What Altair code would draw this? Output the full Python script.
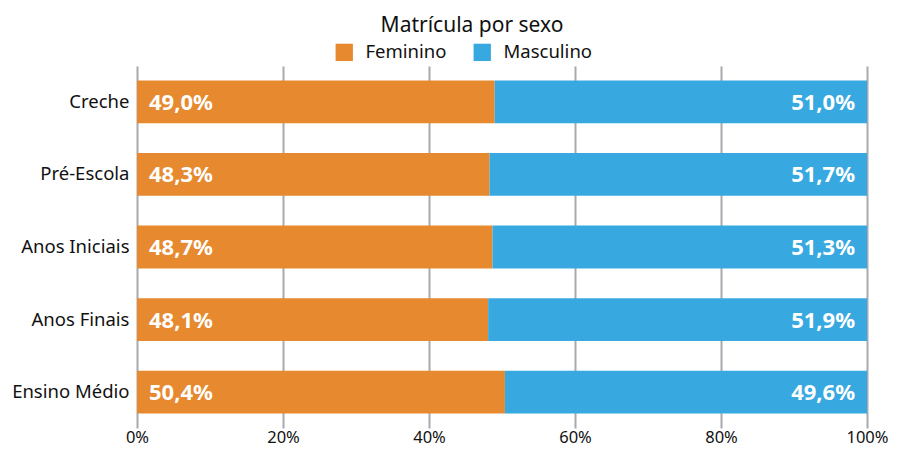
import altair as alt
import pandas as pd

categorias = ["Creche", "Pré-Escola", "Anos Iniciais", "Anos Finais", "Ensino Médio"]
feminino = [49.0, 48.3, 48.7, 48.1, 50.4]
masculino = [51.0, 51.7, 51.3, 51.9, 49.6]
sexos = ["Feminino", "Masculino"]
cores = ["#E6892F", "#38A9E0"]
ticks = [0, 20, 40, 60, 80, 100]

rows = []
for c, f, m in zip(categorias, feminino, masculino):
    rows.append({"cat": c, "sexo": "Feminino", "v": f, "ordem": 0})
    rows.append({"cat": c, "sexo": "Masculino", "v": m, "ordem": 1})
df = pd.DataFrame(rows)

FONT = "Noto Sans"

y = alt.Y("cat:N", sort=categorias, title=None,
          scale=alt.Scale(paddingInner=0.41, paddingOuter=0.2),
          axis=alt.Axis(domain=False, ticks=False, labelFontSize=18.5, labelColor="#111",
                        labelPadding=8, labelFont=FONT, grid=False))

bars = alt.Chart(df).mark_bar().encode(
    x=alt.X("v:Q", stack="zero", title=None,
            scale=alt.Scale(domain=[0, 100], nice=False),
            axis=alt.Axis(values=ticks, labelExpr="datum.value + '%'", domain=False, ticks=False,
                          grid=True, gridColor="#A6A9AE", gridWidth=2, labelFontSize=16.5,
                          labelColor="#111", labelFont=FONT, labelPadding=1, labelFlush=False)),
    y=y,
    color=alt.Color("sexo:N", scale=alt.Scale(domain=sexos, range=cores),
                    legend=alt.Legend(title=None, orient="none", direction="horizontal",
                                      legendX=198, legendY=-23, symbolType="square",
                                      symbolSize=300, symbolStrokeWidth=0, labelFontSize=18.5,
                                      labelFont=FONT, labelColor="#111", columnPadding=26,
                                      labelOffset=12, symbolOpacity=1)),
    order=alt.Order("ordem:Q"),
)

lab_f = alt.Chart(df).transform_filter("datum.sexo == 'Feminino'").transform_calculate(
    t="replace(format(datum.v, '.1f'), '.', ',') + '%'", x0="0"
).mark_text(align="left", dx=12, dy=1, color="white", fontWeight="bold", fontSize=22, font=FONT).encode(
    x=alt.X("x0:Q"), y=y, text="t:N")

lab_m = alt.Chart(df).transform_filter("datum.sexo == 'Masculino'").transform_calculate(
    t="replace(format(datum.v, '.1f'), '.', ',') + '%'", x1="100"
).mark_text(align="right", dx=-12, dy=1, color="white", fontWeight="bold", fontSize=22, font=FONT).encode(
    x=alt.X("x1:Q"), y=y, text="t:N")

chart = alt.layer(bars, lab_f, lab_m).properties(
    width=730, height=362,
    title=alt.TitleParams("Matrícula por sexo", fontSize=21, font=FONT, fontWeight="normal",
                          color="#111", anchor="middle", frame="group", dx=-30, offset=7),
    autosize=alt.AutoSizeParams(type="none"),
    padding={"left": 129, "top": 58, "right": 23, "bottom": 20},
).configure_view(stroke=None)

chart.save("out.html", embed_options={"renderer": "svg", "actions": False})
